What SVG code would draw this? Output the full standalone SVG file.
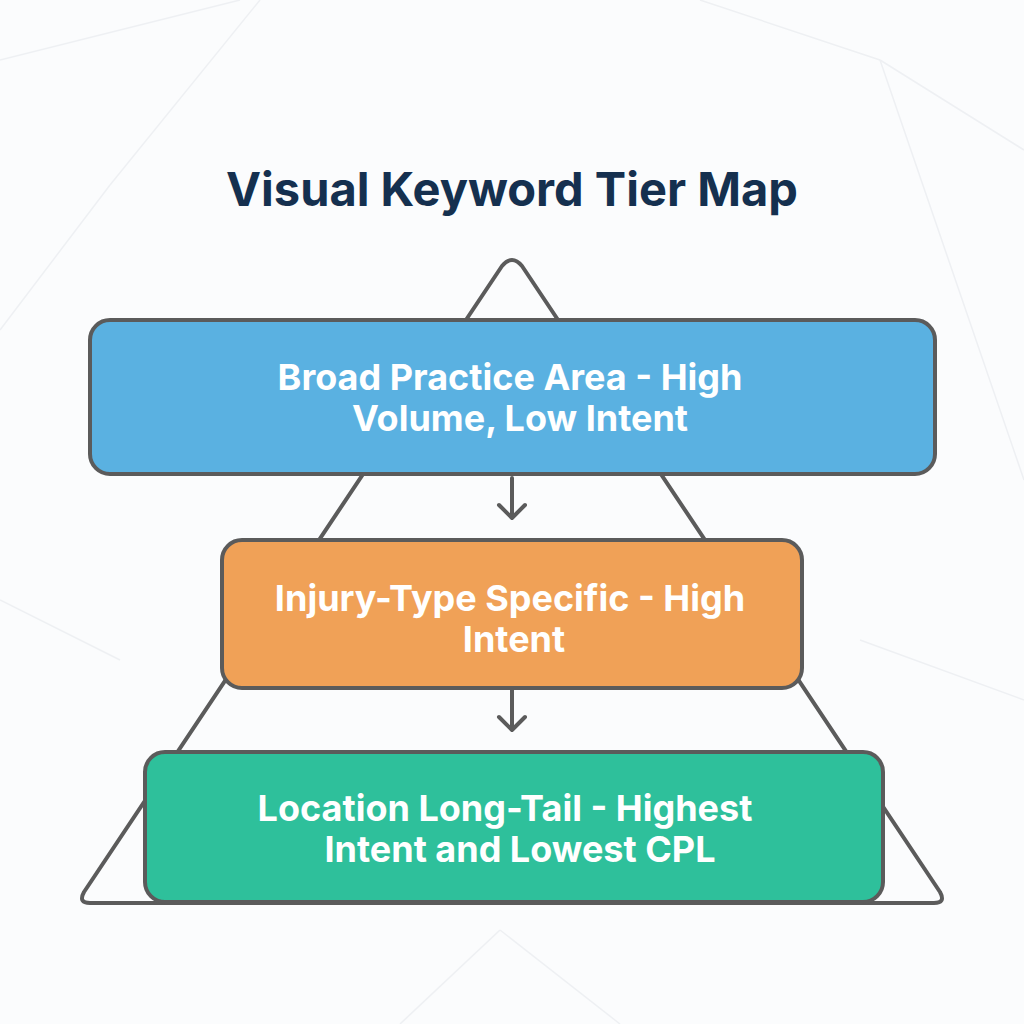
<svg xmlns="http://www.w3.org/2000/svg" width="1024" height="1024" viewBox="0 0 1024 1024">
<style>
.box{stroke:#5b5b5b;stroke-width:4}
.t{font-family:Inter,"Liberation Sans",sans-serif;font-weight:700;font-size:36px;fill:#fff;text-anchor:middle}
.con{stroke:#5b5b5b;stroke-width:4;fill:none;stroke-linecap:round;stroke-linejoin:round}
.bg{stroke:#eef0f3;stroke-width:1.5}
</style>
<rect width="1024" height="1024" fill="#fbfcfd"/>
<g id="background">
<line class="bg" x1="0" y1="60" x2="240" y2="0"/>
<line class="bg" x1="110" y1="185" x2="0" y2="330"/>
<line class="bg" x1="110" y1="185" x2="260" y2="0"/>
<line class="bg" x1="880" y1="60" x2="1024" y2="150"/>
<line class="bg" x1="880" y1="60" x2="700" y2="0"/>
<line class="bg" x1="1024" y1="480" x2="880" y2="60"/>
<line class="bg" x1="120" y1="660" x2="0" y2="600"/>
<line class="bg" x1="860" y1="640" x2="1024" y2="700"/>
<line class="bg" x1="500" y1="930" x2="400" y2="1024"/>
<line class="bg" x1="500" y1="930" x2="620" y2="1024"/>
</g>
<text x="512" y="206" font-family="Inter,'Liberation Sans',sans-serif" font-weight="700" font-size="47" fill="#15304f" text-anchor="middle">Visual Keyword Tier Map</text>
<g id="pyramid">
<path class="con" d="M502 266 Q512 254 522 266 L940 892 Q946 903 934 903 L90 903 Q78 903 84 892 Z"/>
</g>
<g id="connectors">
<path class="con" d="M512 478 V518 M499 505 L512 518 L525 505"/>
<path class="con" d="M512 690 V730 M499 717 L512 730 L525 717"/>
</g>
<g id="n1">
<rect class="box" x="90" y="320" width="845" height="154" rx="20" fill="#5ab1e1"/>
<text class="t" x="510" y="390">Broad Practice Area - High</text>
<text class="t" x="520" y="431">Volume, Low Intent</text>
</g>
<g id="n2">
<rect class="box" x="222" y="540" width="580" height="148" rx="20" fill="#f0a157"/>
<text class="t" x="510" y="611">Injury-Type Specific - High</text>
<text class="t" x="514" y="652">Intent</text>
</g>
<g id="n3">
<rect class="box" x="145" y="752" width="738" height="150" rx="20" fill="#2ec09b"/>
<text class="t" x="505" y="821">Location Long-Tail - Highest</text>
<text class="t" x="520" y="862">Intent and Lowest CPL</text>
</g>
</svg>
